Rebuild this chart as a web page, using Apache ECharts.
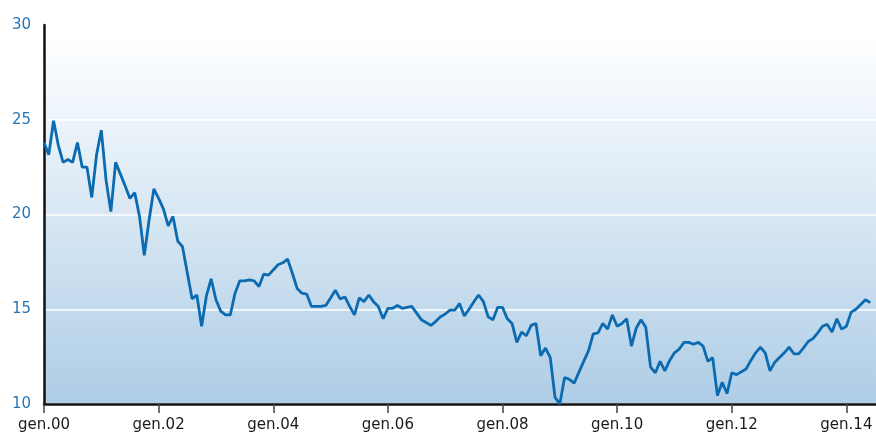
<!DOCTYPE html>
<html>
<head>
<meta charset="utf-8">
<script src="https://cdn.jsdelivr.net/npm/echarts@6/dist/echarts.min.js"></script>
<style>
  html, body { margin: 0; padding: 0; background: #fff; }
  #chart { width: 876px; height: 442px; }
</style>
</head>
<body>
<div id="chart"></div>
<script>
// months since gen. 2000
var months = [
  0, 1, 2, 3, 4, 5, 6, 7, 8, 9, 10, 11, 12, 13, 14, 15, 17, 18, 19, 20,
  21, 22, 23, 24, 25, 26, 27, 28, 29, 31, 32, 33, 34, 35, 36, 37, 38, 39, 40, 41,
  42, 43, 44, 45, 46, 47, 49, 50, 51, 52, 53, 54, 55, 56, 57, 58, 59, 60, 61, 62,
  63, 64, 65, 66, 67, 68, 69, 70, 71, 72, 73, 74, 75, 76, 77, 79, 80, 81, 82, 83,
  84, 85, 86, 87, 88, 89, 90, 91, 92, 93, 94, 95, 96, 97, 98, 99, 100, 101, 102, 103,
  104, 105, 106, 107, 108, 109, 110, 111, 113, 114, 115, 116, 117, 118, 119, 120, 121, 122, 123, 124,
  125, 126, 127, 128, 129, 130, 131, 132, 133, 134, 135, 136, 137, 138, 139, 140, 141, 142, 143, 144,
  145, 147, 148, 149, 150, 151, 152, 153, 154, 155, 156, 157, 158, 159, 160, 161, 162, 163, 164, 165,
  166, 167, 168, 169, 170, 171, 172, 173
];
var values = [
  23.8, 23.15, 24.95, 23.65, 22.75, 22.9, 22.75, 23.8, 22.5, 22.5, 20.9, 23.15, 24.45, 21.8, 20.15, 22.75, 21.5, 20.85, 21.15, 19.9,
  17.85, 19.7, 21.35, 20.85, 20.3, 19.4, 19.9, 18.6, 18.3, 15.55, 15.75, 14.1, 15.7, 16.6, 15.5, 14.9, 14.7, 14.7, 15.85, 16.5,
  16.5, 16.55, 16.5, 16.2, 16.85, 16.8, 17.35, 17.45, 17.65, 16.9, 16.1, 15.85, 15.8, 15.15, 15.15, 15.15, 15.2, 15.6, 16.0, 15.55,
  15.65, 15.15, 14.7, 15.6, 15.4, 15.75, 15.4, 15.15, 14.5, 15.05, 15.05, 15.2, 15.05, 15.1, 15.15, 14.45, 14.3, 14.15, 14.35, 14.6,
  14.75, 14.95, 14.95, 15.3, 14.65, 15.0, 15.4, 15.75, 15.4, 14.6, 14.45, 15.1, 15.1, 14.5, 14.25, 13.25, 13.8, 13.6, 14.15, 14.25,
  12.55, 12.95, 12.45, 10.35, 10.0, 11.4, 11.3, 11.1, 12.25, 12.8, 13.7, 13.75, 14.25, 13.95, 14.7, 14.1, 14.25, 14.5, 13.05, 14.0,
  14.45, 14.05, 11.95, 11.65, 12.25, 11.75, 12.3, 12.7, 12.9, 13.25, 13.25, 13.15, 13.25, 13.05, 12.25, 12.45, 10.45, 11.15, 10.55, 11.65,
  11.55, 11.85, 12.3, 12.7, 13.0, 12.7, 11.75, 12.2, 12.45, 12.7, 13.0, 12.65, 12.65, 12.95, 13.3, 13.45, 13.75, 14.1, 14.2, 13.8,
  14.5, 13.95, 14.1, 14.85, 15.0, 15.25, 15.5, 15.35
];
var xTicks = ['gen.00', 'gen.02', 'gen.04', 'gen.06', 'gen.08', 'gen.10', 'gen.12', 'gen.14'];
var yTicks = [10, 15, 20, 25, 30];

var points = [];
for (var i = 0; i < months.length; i++) {
    points.push([months[i], values[i]]);
}

var myChart = echarts.init(document.getElementById('chart'));

var option = {
    animation: false,
    grid: {
        left: 44, right: 0, top: 25, bottom: 38,
        show: true,
        borderWidth: 0,
        backgroundColor: new echarts.graphic.LinearGradient(0, 0, 0, 1, [
            { offset: 0, color: '#ffffff' },
            { offset: 0.05, color: '#fdfeff' },
            { offset: 1, color: '#aecde6' }
        ])
    },
    xAxis: {
        type: 'value',
        min: 0,
        max: 174.2,
        interval: 24,
        axisLine: { show: true, lineStyle: { color: '#111', width: 2.5 } },
        axisTick: { show: true, length: 9, lineStyle: { color: '#444', width: 1.5 } },
        splitLine: { show: false },
        axisLabel: {
            showMaxLabel: false,
            margin: 14,
            color: '#1a1a1a',
            fontFamily: 'DejaVu Sans',
            fontSize: 15,
            formatter: function (v) {
                if (v % 24 !== 0) return '';
                return xTicks[v / 24] || '';
            }
        }
    },
    yAxis: {
        type: 'value',
        min: yTicks[0],
        max: yTicks[yTicks.length - 1],
        interval: 5,
        axisLine: { show: true, lineStyle: { color: '#111', width: 2.5 } },
        axisTick: { show: false },
        splitLine: { show: true, lineStyle: { color: '#ffffff', width: 1.5 } },
        axisLabel: {
            margin: 13,
            color: '#2676b6',
            fontFamily: 'DejaVu Sans',
            fontSize: 15,
            padding: [0, 0, 10, 0]
        }
    },
    series: [{
        type: 'line',
        data: points,
        showSymbol: false,
        lineStyle: { color: '#0c6bb0', width: 2.8 },
        z: 5
    }]
};
myChart.setOption(option);
</script>
</body>
</html>
